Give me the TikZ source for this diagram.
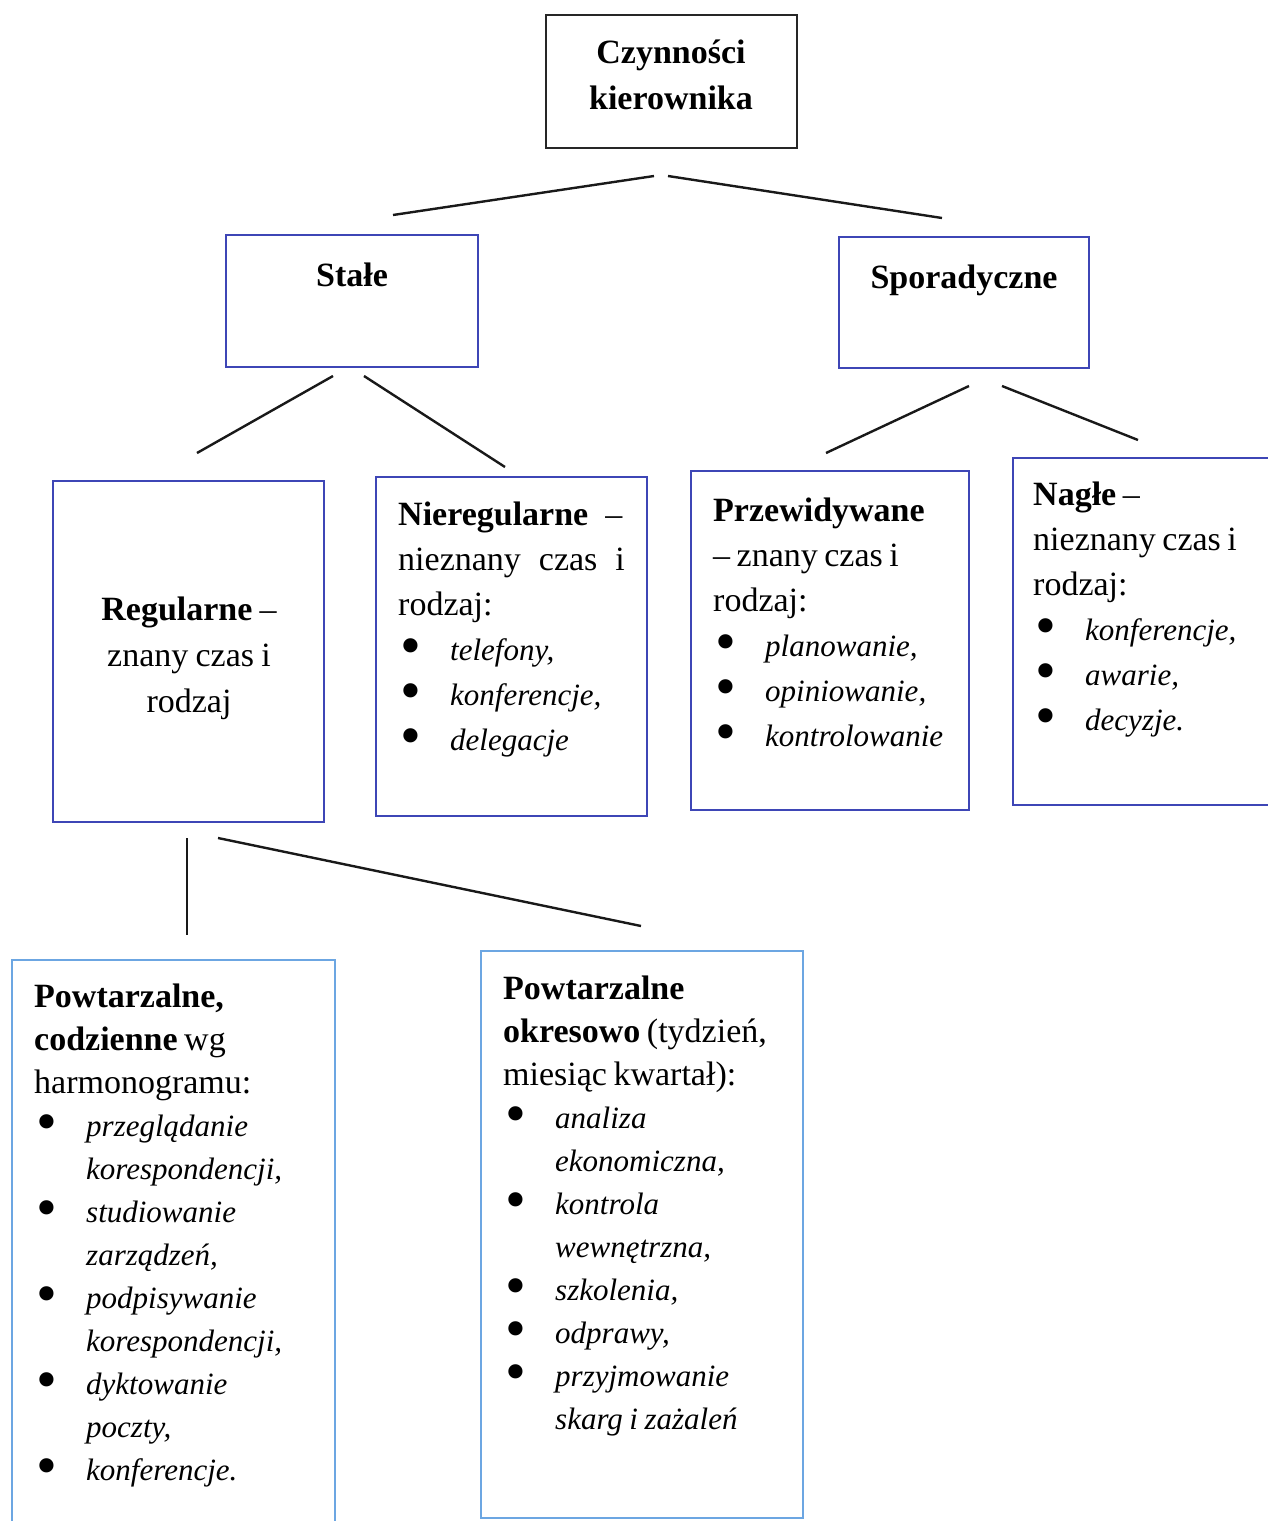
\documentclass[tikz,border=0pt]{standalone}
\usepackage{fontspec}
\setmainfont{Liberation Serif}
\definecolor{frameblue}{RGB}{62,70,182}
\definecolor{skyframe}{RGB}{108,166,226}
% tighter interword spacing
\newcommand{\tightsp}{\spaceskip=6.5pt plus 1pt\xspaceskip=7pt\relax}
% bullet and list-item helpers
\newcommand{\dotmark}{\smash{\raisebox{-5pt}{\scalebox{1.75}{•}}}}
\newcommand{\itfnt}{\fontsize{31}{43}\selectfont\itshape}
\newcommand{\itm}[1]{\hspace*{2pt}\makebox[50pt][l]{\dotmark}{\itfnt #1}}
\newcommand{\cont}[1]{\hspace*{52pt}{\itfnt #1}}
\tikzset{
  box/.style={draw, line width=2pt, inner sep=0pt},
  topbox/.style={box, draw=black!85},
  midbox/.style={box, draw=frameblue},
  lowbox/.style={box, draw=skyframe},
  conn/.style={draw=black!90, line width=2.4pt},
  txt/.style={inner sep=0pt, align=left, font=\fontsize{34}{45}\selectfont, execute at begin node=\tightsp},
  ctxt/.style={inner sep=0pt, align=center, font=\fontsize{34}{46}\selectfont, execute at begin node=\tightsp},
}
\begin{document}
\begin{tikzpicture}[x=1pt, y=-1pt]
\useasboundingbox (0,0) rectangle (1267,1521);

% frames
\node[topbox, minimum width=251pt, minimum height=133pt] (root) at (671.5,81.5) {};
\node[midbox, minimum width=252pt, minimum height=132pt] (stale) at (352,301) {};
\node[midbox, minimum width=250pt, minimum height=131pt] (spor) at (964,302.5) {};
\node[midbox, minimum width=271pt, minimum height=341pt] (reg) at (188.5,651.5) {};
\node[midbox, minimum width=271pt, minimum height=339pt] (nier) at (511.5,646.5) {};
\node[midbox, minimum width=278pt, minimum height=339pt] (prze) at (830,640.5) {};
\node[midbox, minimum width=277pt, minimum height=347pt] (nagle) at (1151.5,631.5) {};
\node[lowbox, minimum width=323pt, minimum height=600pt] (codz) at (173.5,1260) {};
\node[lowbox, minimum width=322pt, minimum height=567pt] (okres) at (642,1234.5) {};

% texts
\node[ctxt, font=\fontsize{34}{46}\selectfont\bfseries, text width=250pt, anchor=base] (rootT) at (671,63) {Czynności\\kierownika};
\node[ctxt, font=\fontsize{34}{46}\selectfont\bfseries, anchor=base] (staleT) at (352,286) {Stałe};
\node[ctxt, font=\fontsize{34}{46}\selectfont\bfseries, anchor=base] (sporT) at (964,288) {Sporadyczne};
\node[ctxt, text width=260pt, anchor=base] (regT) at (189,620) {\textbf{Regularne} –\\znany czas i\\rodzaj};
\node[txt, text width=260pt, anchor=base west] (nierT) at (398,525)
  {\textbf{Nieregularne}\hspace{17pt}–\\
   nieznany\hspace{18pt}czas\hspace{18pt}i\\
   rodzaj:\\
   \itm{telefony,}\\
   \itm{konferencje,}\\
   \itm{delegacje}};
\node[txt, text width=260pt, anchor=base west] (przeT) at (713,521)
  {\textbf{Przewidywane}\\
   – znany czas i\\
   rodzaj:\\
   \itm{planowanie,}\\
   \itm{opiniowanie,}\\
   \itm{kontrolowanie}};
\node[txt, text width=240pt, anchor=base west] (nagleT) at (1033,505)
  {\textbf{Nagłe} –\\
   nieznany czas i\\
   rodzaj:\\
   \itm{konferencje,}\\
   \itm{awarie,}\\
   \itm{decyzje.}};
\node[txt, font=\fontsize{34}{43}\selectfont, text width=300pt, anchor=base west] (codzT) at (34,1007)
  {\textbf{Powtarzalne,}\\
   \textbf{codzienne} wg\\
   harmonogramu:\\
   \itm{przeglądanie}\\
   \cont{korespondencji,}\\
   \itm{studiowanie}\\
   \cont{zarządzeń,}\\
   \itm{podpisywanie}\\
   \cont{korespondencji,}\\
   \itm{dyktowanie}\\
   \cont{poczty,}\\
   \itm{konferencje.}};
\node[txt, font=\fontsize{34}{43}\selectfont, text width=300pt, anchor=base west] (okresT) at (503,999)
  {\textbf{Powtarzalne}\\
   \textbf{okresowo} (tydzień,\\
   miesiąc kwartał):\\
   \itm{analiza}\\
   \cont{ekonomiczna,}\\
   \itm{kontrola}\\
   \cont{wewnętrzna,}\\
   \itm{szkolenia,}\\
   \itm{odprawy,}\\
   \itm{przyjmowanie}\\
   \cont{skarg i zażaleń}};

% connector end points
\coordinate (r1) at (393,215);  \coordinate (r2) at (654,176);
\coordinate (r3) at (668,176);  \coordinate (r4) at (942,218);
\coordinate (s1) at (197,453);  \coordinate (s2) at (333,376);
\coordinate (s3) at (364,376);  \coordinate (s4) at (505,467);
\coordinate (p1) at (826,453);  \coordinate (p2) at (969,386);
\coordinate (p3) at (1002,386); \coordinate (p4) at (1138,440);
\coordinate (g1) at (187,838);  \coordinate (g2) at (187,935);
\coordinate (g3) at (218,838);  \coordinate (g4) at (641,926);

\draw[conn] (r1) -- (r2);
\draw[conn] (r3) -- (r4);
\draw[conn] (s1) -- (s2);
\draw[conn] (s3) -- (s4);
\draw[conn] (p1) -- (p2);
\draw[conn] (p3) -- (p4);
\draw[conn] (g1) -- (g2);
\draw[conn] (g3) -- (g4);
\end{tikzpicture}
\end{document}
